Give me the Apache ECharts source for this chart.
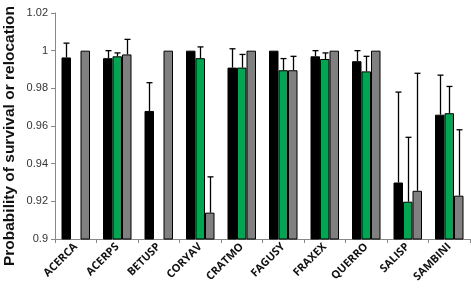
<!DOCTYPE html>
<html>
<head>
<meta charset="utf-8">
<script src="https://cdn.jsdelivr.net/npm/echarts@6/dist/echarts.min.js"></script>
<style>
  html, body { margin: 0; padding: 0; background: #fff; }
  #chart { width: 471px; height: 292px; }
</style>
</head>
<body>
<div id="chart"></div>
<script>
  // species codes along x
  var categories = ['ACERCA', 'ACERPS', 'BETUSP', 'CORYAV', 'CRATMO', 'FAGUSY', 'FRAXEX', 'QUERRO', 'SALISP', 'SAMBINI'];
  // bar heights (probability), three series per species
  var blackValues = [0.9964, 0.996, 0.968, 1.0, 0.991, 1.0, 0.997, 0.9944, 0.930, 0.966];
  var greenValues = [0.8995, 0.997, 0.8995, 0.996, 0.991, 0.9896, 0.9956, 0.989, 0.9198, 0.9668];
  var grayValues = [1.0, 0.998, 1.0, 0.914, 1.0, 0.9896, 1.0, 1.0, 0.9256, 0.923];
  // upper end of error bars (null = no bar)
  var blackErrTop = [1.004, 1.0, 0.983, null, 1.001, null, 1.0, 1.0, 0.978, 0.987];
  var greenErrTop = [null, 0.9988, null, 1.002, 0.998, 0.9958, 0.9988, 0.997, 0.954, 0.981];
  var grayErrTop = [null, 1.006, null, 0.933, null, 0.997, null, null, 0.988, 0.958];
  var yTicks = ['0.9', '0.92', '0.94', '0.96', '0.98', '1', '1.02'];

  var barW = 9.5;

  function errSeries(tops, vals, offset) {
    var data = [];
    for (var i = 0; i < tops.length; i++) {
      if (tops[i] != null) data.push([i, vals[i], tops[i]]);
    }
    return {
      type: 'custom',
      z: 5,
      silent: true,
      data: data,
      renderItem: function (params, api) {
        var lo = api.coord([api.value(0), api.value(1)]);
        var hi = api.coord([api.value(0), api.value(2)]);
        var x = Math.round(lo[0] + offset) + 0.5;
        return {
          type: 'group',
          children: [
            { type: 'line', shape: { x1: x, y1: lo[1], x2: x, y2: hi[1] }, style: { stroke: '#000', lineWidth: 1.3 } },
            { type: 'line', shape: { x1: x - 3, y1: hi[1], x2: x + 3, y2: hi[1] }, style: { stroke: '#000', lineWidth: 1.3 } }
          ]
        };
      }
    };
  }

  function barSeries(vals, color) {
    return {
      type: 'bar',
      data: vals,
      barWidth: barW,
      barGap: '0%',
      itemStyle: { color: color, borderColor: '#000', borderWidth: 1 }
    };
  }

  var chart = echarts.init(document.getElementById('chart'));
  chart.setOption({
    animation: false,
    grid: { left: 55, right: 1, top: 13, bottom: 53 },
    xAxis: {
      type: 'category',
      data: categories,
      axisLine: { lineStyle: { color: '#888' } },
      axisTick: { show: true, length: 4, lineStyle: { color: '#888' } },
      axisLabel: {
        rotate: 45,
        margin: 6,
        interval: 0,
        color: '#111',
        fontFamily: 'Open Sans',
        fontWeight: 'bold',
        fontSize: 11
      }
    },
    yAxis: {
      type: 'value',
      min: 0.9,
      max: 1.02,
      interval: 0.02,
      axisLine: { show: true, lineStyle: { color: '#888' } },
      axisTick: { show: true, length: 4, lineStyle: { color: '#888' } },
      splitLine: { show: false },
      axisLabel: {
        margin: 7,
        color: '#333',
        fontFamily: 'Liberation Sans',
        fontSize: 11,
        formatter: function (v) {
          var idx = Math.round((v - 0.9) / 0.02);
          return yTicks[idx];
        }
      }
    },
    graphic: [{
      type: 'text',
      x: 10,
      y: 136,
      rotation: Math.PI / 2,
      style: {
        text: 'Probability of survival or relocation',
        font: 'bold 15.5px "Liberation Sans"',
        fill: '#111',
        textAlign: 'center',
        textVerticalAlign: 'middle'
      }
    }],
    series: [
      barSeries(blackValues, '#000'),
      barSeries(greenValues, '#00a651'),
      barSeries(grayValues, '#808080'),
      errSeries(blackErrTop, blackValues, -barW),
      errSeries(greenErrTop, greenValues, 0),
      errSeries(grayErrTop, grayValues, barW)
    ]
  });
</script>
</body>
</html>
